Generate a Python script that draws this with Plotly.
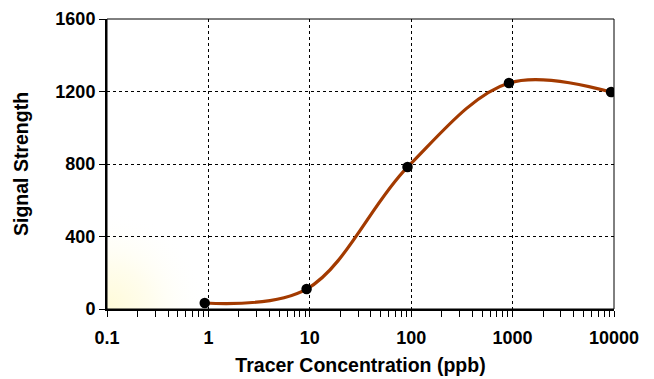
import base64
import plotly.graph_objects as go

# Data
concentration_ppb = [0.92, 9.3, 92, 920, 9350]
signal_strength = [33, 110, 783, 1247, 1197]

x_tick_vals = [0.1, 1, 10, 100, 1000, 10000]
x_tick_text = ["0.1", "1", "10", "100", "1000", "10000"]
y_tick_vals = [0, 400, 800, 1200, 1600]

line_color = "#A33A00"
font_family = "Liberation Sans, Arial, sans-serif"

svg = (
    '<svg xmlns="http://www.w3.org/2000/svg" width="507" height="290" viewBox="0 0 507 290" preserveAspectRatio="none">'
    '<defs><radialGradient id="g" gradientUnits="userSpaceOnUse" cx="0" cy="290" r="100">'
    '<stop offset="0" stop-color="#FFFBD8"/>'
    '<stop offset="0.45" stop-color="#FFFDEE"/>'
    '<stop offset="1" stop-color="#FFFFFF" stop-opacity="0"/>'
    '</radialGradient></defs>'
    '<rect x="0" y="0" width="507" height="290" fill="url(#g)"/></svg>'
)
svg_uri = "data:image/svg+xml;base64," + base64.b64encode(svg.encode()).decode()

fig = go.Figure()
fig.add_trace(go.Scatter(
    x=concentration_ppb, y=signal_strength,
    mode="lines",
    line=dict(color=line_color, width=3.2, shape="spline", smoothing=1.0),
    hoverinfo="skip", showlegend=False,
))
fig.add_trace(go.Scatter(
    x=concentration_ppb, y=signal_strength,
    mode="markers",
    marker=dict(color="black", size=10.5),
    showlegend=False,
))

fig.update_layout(
    width=654, height=379,
    margin=dict(l=107, r=40, t=19, b=70, autoexpand=False),
    paper_bgcolor="white",
    plot_bgcolor="rgba(0,0,0,0)",
    font=dict(family=font_family, size=18, color="black", weight="bold"),
    images=[dict(source=svg_uri, xref="paper", yref="paper", x=0, y=0,
                 sizex=1, sizey=1, xanchor="left", yanchor="bottom",
                 sizing="stretch", layer="below")],
    shapes=[dict(type="rect", xref="paper", yref="paper", x0=0, y0=0, x1=1, y1=1,
                 line=dict(color="black", width=1), layer="above")],
)

fig.update_xaxes(
    type="log", range=[-1, 4], automargin=False,
    tickvals=x_tick_vals, ticktext=x_tick_text,
    ticks="outside", ticklen=6, tickcolor="black", tickwidth=1,
    ticklabelstandoff=5,
    minor=dict(ticks="outside", ticklen=6, tickcolor="black", tickwidth=1,
               dtick="D1", showgrid=False),
    showgrid=True, gridcolor="black", griddash="dot", gridwidth=1,
    showline=True, linecolor="black", linewidth=2,
    zeroline=False,
    tickfont=dict(size=18, weight="bold"),
    title=dict(text="Tracer Concentration (ppb)", font=dict(size=19.5, weight="bold"), standoff=12),
)
fig.update_yaxes(
    range=[0, 1600], tickvals=y_tick_vals, automargin=False,
    ticks="outside", ticklen=6, tickcolor="black", tickwidth=1,
    showgrid=True, gridcolor="black", griddash="dot", gridwidth=1,
    showline=True, linecolor="black", linewidth=2,
    zeroline=False,
    tickfont=dict(size=18, weight="bold"),
    title=dict(text="Signal Strength", font=dict(size=19.5, weight="bold"), standoff=22),
)

fig.write_html("out.html", config={"displayModeBar": False},
               post_script="document.body.style.margin='0';")
